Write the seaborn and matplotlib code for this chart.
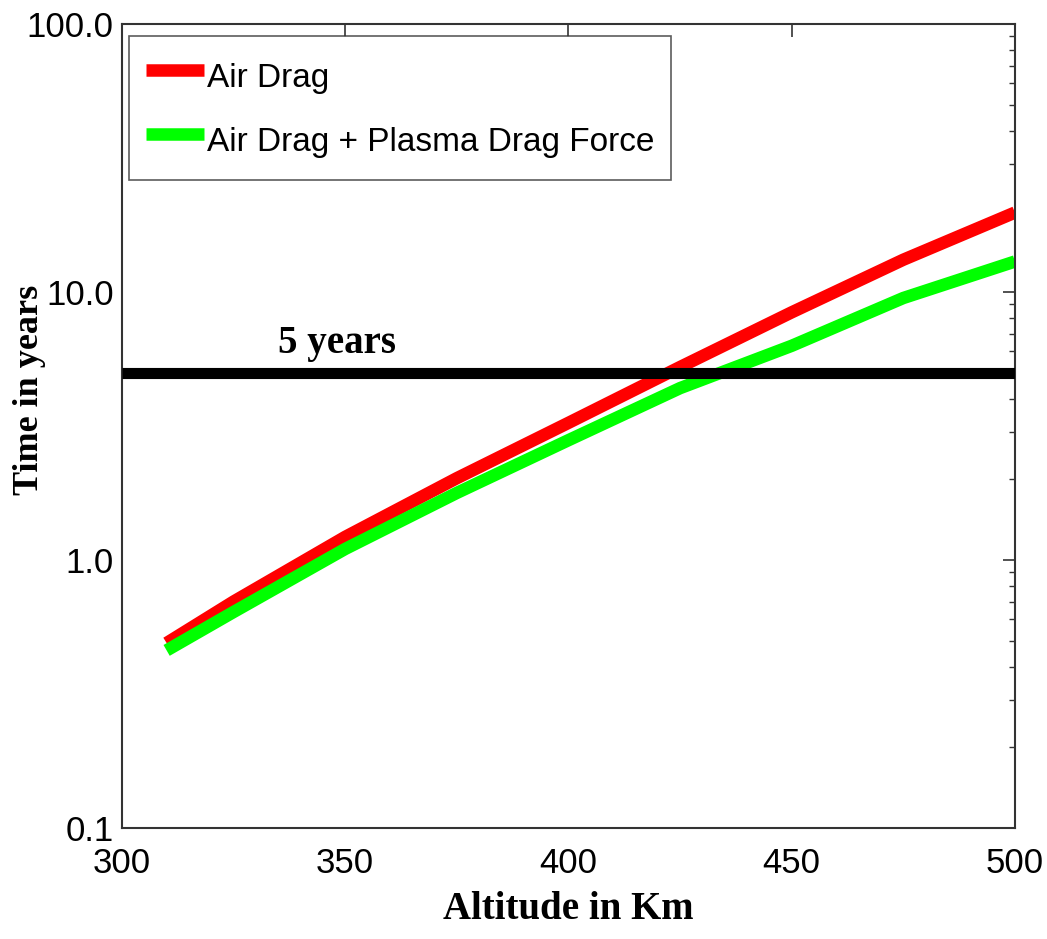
import pandas as pd
import numpy as np
import matplotlib
matplotlib.use('Agg')
import matplotlib.pyplot as plt
import seaborn as sns
from matplotlib.ticker import FixedLocator, FixedFormatter, LogLocator, NullFormatter

# ================================
# Data
# ================================

altitude = [310, 325, 350, 375, 400, 425, 450, 475, 500]
air_drag = [0.49, 0.70, 1.22, 2.02, 3.25, 5.25, 8.4, 13.2, 19.8]
air_plasma_drag = [0.46, 0.64, 1.10, 1.78, 2.80, 4.38, 6.3, 9.5, 13.0]
series_names = ['Air Drag', 'Air Drag + Plasma Drag Force']
threshold = 5
threshold_label = '5 years'
y_ticks = [0.1, 1, 10, 100]
y_tick_labels = ['0.1', '1.0', '10.0', '100.0']
x_ticks = [300, 350, 400, 450, 500]

df = pd.concat([
    pd.DataFrame({'Altitude': altitude, 'Time': air_drag, 'Model': series_names[0]}),
    pd.DataFrame({'Altitude': altitude, 'Time': air_plasma_drag, 'Model': series_names[1]}),
])

# ================================
# Plot
# ================================

sns.set_style('white')
plt.rcParams['font.family'] = ['Liberation Sans', 'DejaVu Sans']
plt.rcParams['text.color'] = 'black'
plt.rcParams['axes.labelcolor'] = 'black'

serif = ['Liberation Serif', 'DejaVu Serif']

fig = plt.figure(figsize=(10.47, 9.39), dpi=100)
ax = fig.add_axes([0.1165, 0.1182, 0.8529, 0.8562])

sns.lineplot(data=df, x='Altitude', y='Time', hue='Model', hue_order=series_names,
             palette=['#ff0000', '#00ff00'], linewidth=9, solid_capstyle='butt', ax=ax)

ax.axhline(threshold, color='black', linewidth=8, zorder=5, solid_capstyle='butt')
ax.text(335, 5.5, threshold_label, fontsize=28, fontweight='bold',
        family=serif, va='bottom', ha='left')

ax.set_yscale('log')
ax.set_xlim(300, 500)
ax.set_ylim(0.1, 100)
ax.yaxis.set_major_locator(FixedLocator(y_ticks))
ax.yaxis.set_major_formatter(FixedFormatter(y_tick_labels))
ax.yaxis.set_minor_locator(LogLocator(base=10, subs=np.arange(2, 10)))
ax.yaxis.set_minor_formatter(NullFormatter())
ax.set_xticks(x_ticks)

ax.tick_params(axis='both', which='both', direction='in', top=True, right=True,
               labelsize=25, colors='#333333', labelcolor='black')
ax.tick_params(axis='both', which='major', length=9, width=1.2)
ax.tick_params(axis='both', which='minor', length=4.5, width=1)
ax.tick_params(axis='x', pad=14)
ax.tick_params(axis='y', pad=6)

for s in ax.spines.values():
    s.set_color('#333333')
    s.set_linewidth(1.5)

ax.set_xlabel('Altitude in Km', fontsize=28, fontweight='bold', family=serif)
ax.set_ylabel('Time in years', fontsize=26, fontweight='bold', family=serif)
ax.xaxis.set_label_coords(0.5, -0.078)
ax.yaxis.set_label_coords(-0.085, 0.545)

leg = ax.legend(loc='upper left', bbox_to_anchor=(0.008, 0.985), borderaxespad=0,
                fontsize=24, frameon=True, fancybox=False,
                handlelength=1.75, handletextpad=0.1, borderpad=0.5,
                handleheight=1.8, labelspacing=0.5)
leg.get_frame().set_edgecolor('#333333')
leg.get_frame().set_linewidth(1.2)
for line in leg.get_lines():
    line.set_linewidth(9)
    line.set_solid_capstyle('butt')

plt.savefig('out.png', dpi=100)
